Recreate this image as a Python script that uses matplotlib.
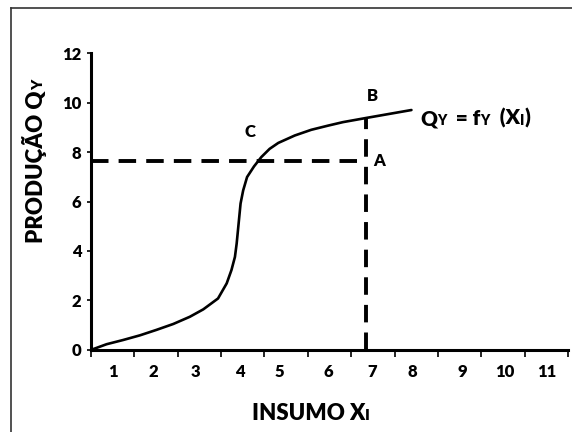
import matplotlib
matplotlib.use('Agg')
import matplotlib.pyplot as plt
from matplotlib.transforms import IdentityTransform
from matplotlib.lines import Line2D

# Curve (insumo X, produção Q)
curve_x = [0, 0.36, 0.74, 1.13, 1.51, 1.90, 2.28, 2.59, 2.93, 3.13, 3.24, 3.32, 3.36,
           3.39, 3.42, 3.45, 3.51, 3.60, 3.76, 3.93, 4.12, 4.32, 4.70, 5.08, 5.47, 5.81,
           6.35, 7.39]
curve_y = [0, 0.23, 0.40, 0.59, 0.81, 1.05, 1.34, 1.64, 2.08, 2.69, 3.23, 3.76, 4.30,
           4.84, 5.38, 5.92, 6.45, 6.99, 7.42, 7.80, 8.13, 8.37, 8.67, 8.90, 9.07, 9.21,
           9.38, 9.70]

# point A / B
point_x = 6.35
point_a_y = 7.62
point_b_y = 9.38

y_ticks = [0, 2, 4, 6, 8, 10, 12]
x_ticks = list(range(12))
x_labels = ['1', '2', '3', '4', '5', '6', '7', '8', '9', '10', '11']
x_label_pos = [0.51, 1.43, 2.42, 3.43, 4.35, 5.48, 6.48, 7.42, 8.57, 9.54, 10.5]

W = 'heavy'
plt.rcParams['font.family'] = ['Lato', 'DejaVu Sans']
plt.rcParams['font.weight'] = W

fig = plt.figure(figsize=(5.72, 4.32), dpi=100)
ax = fig.add_axes([0.159, 0.190, 0.834, 0.687])

ax.plot(curve_x, curve_y, color='black', lw=1.9, solid_capstyle='round', solid_joinstyle='round')
ax.plot([0, point_x], [point_a_y, point_a_y], color='black', lw=2.8, dashes=(4.5, 2.6))
ax.plot([point_x, point_x], [0, point_b_y], color='black', lw=2.8, dashes=(4.5, 2.6))

ax.set_xlim(0, 11)
ax.set_ylim(0, 12)
ax.spines['top'].set_visible(False)
ax.spines['right'].set_visible(False)
ax.spines['left'].set_linewidth(2.2)
ax.spines['bottom'].set_linewidth(2.2)

ax.set_yticks(y_ticks)
ax.set_yticklabels([str(v) for v in y_ticks], fontsize=12, fontweight=W)
ax.tick_params(axis='y', length=3, width=1.2, pad=4)
ax.set_xticks(x_ticks)
ax.set_xticklabels([])
ax.tick_params(axis='x', length=5, width=1.2)

for lab, pos in zip(x_labels, x_label_pos):
    ax.text(pos, -0.88, lab, ha='center', va='center', fontsize=12, fontweight=W,
            clip_on=False)

ax.text(3.66, 8.8, 'C', ha='center', va='center', fontsize=12, fontweight=W)
ax.text(6.48, 10.28, 'B', ha='center', va='center', fontsize=12, fontweight=W)
ax.text(6.65, 7.62, 'A', ha='center', va='center', fontsize=12, fontweight=W)


# text with small caps subscripts sitting on the baseline
def piece_text(x0, y0, pieces, rotation=0):
    renderer = fig.canvas.get_renderer()
    x, y = x0, y0
    for s, size in pieces:
        t = fig.text(x, y, s, transform=IdentityTransform(), fontsize=size,
                     fontweight=W, ha='left', va='baseline',
                     rotation=rotation, rotation_mode='anchor')
        bb = t.get_window_extent(renderer)
        if rotation == 0:
            x += bb.width
        else:
            y += bb.height


piece_text(420, 432 - 125, [('Q', 15), ('Y', 10), ('  = f', 15), ('Y', 10),
                            ('  (X', 15), ('I', 10), (')', 15)])
piece_text(252, 432 - 420, [('INSUMO X', 16), ('I', 11)])
piece_text(43, 432 - 243, [('PRODUÇÃO Q', 16), ('Y', 11)], rotation=90)

# frame of the original picture (top and left edges only)
fig.add_artist(Line2D([11 / 572, 1], [1 - 8 / 432, 1 - 8 / 432], transform=fig.transFigure,
                      color='#333333', lw=1.2))
fig.add_artist(Line2D([11 / 572, 11 / 572], [0, 1 - 8 / 432], transform=fig.transFigure,
                      color='#333333', lw=1.2))

fig.savefig('out.png', dpi=100)
